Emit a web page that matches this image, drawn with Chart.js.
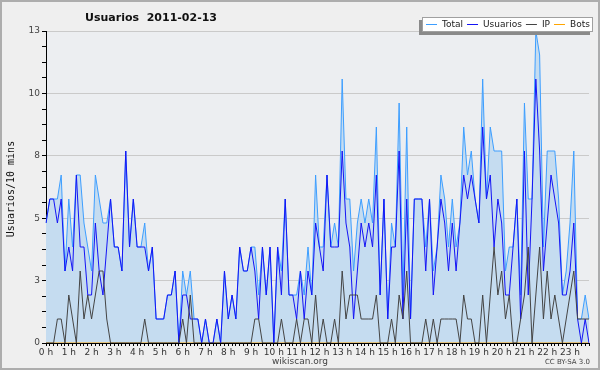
<!DOCTYPE html>
<html>
<head>
<meta charset="utf-8">
<script src="https://cdn.jsdelivr.net/npm/chart.js@4/dist/chart.umd.min.js"></script>
<style>
  html, body { margin: 0; padding: 0; background: #efefef; }
  #wrap { width: 600px; height: 370px; position: relative; }
</style>
</head>
<body>
<div id="wrap"><canvas id="chart" width="600" height="370"></canvas></div>
<script>
// hour tick labels, one every 6 points (10 min steps)
const hourLabels = ['0 h','1 h','2 h','3 h','4 h','5 h','6 h','7 h','8 h','9 h','10 h','11 h',
  '12 h','13 h','14 h','15 h','16 h','17 h','18 h','19 h','20 h','21 h','22 h','23 h'];

// users per 10 minutes, 144 points
const total = [
  5,6,6,6,7,3,6,4,7,7,5,4,
  3,7,6,5,5,6,4,4,3,8,4,6,
  4,4,5,3,4,1,1,1,2,2,3,0,
  3,2,3,1,1,0,1,0,0,1,0,3,
  1,2,1,4,3,3,4,4,2,4,2,4,
  0,4,3,6,2,2,2,3,2,4,2,7,
  4,4,7,4,5,4,11,6,6,3,5,6,
  5,6,5,9,2,6,1,5,4,10,2,9,
  1,6,6,6,4,6,3,4,7,6,4,6,
  4,5,9,7,8,6,5,11,6,9,8,8,
  8,3,4,4,6,2,10,6,6,13,12,4,
  8,8,8,6,2,3,5,8,1,1,2,1
];
const usuarios = [
  5,6,6,5,6,3,4,3,7,4,4,2,
  2,5,3,2,4,6,4,4,3,8,4,6,
  4,4,4,3,4,1,1,1,2,2,3,0,
  2,2,1,1,1,0,1,0,0,1,0,3,
  1,2,1,4,3,3,4,3,1,4,2,4,
  0,4,2,6,2,2,1,3,1,3,2,5,
  4,3,7,4,4,4,8,5,4,1,3,5,
  4,5,4,7,2,6,1,4,4,8,1,6,
  1,6,6,6,3,6,2,4,6,5,3,5,
  3,5,7,6,7,6,5,9,6,7,4,6,
  5,2,2,4,6,1,8,2,6,11,8,3,
  5,7,6,5,2,2,3,5,1,0,1,0
];
const ip = [
  0,0,0,1,1,0,2,1,0,3,1,2,
  1,2,3,3,1,0,0,0,0,0,0,0,
  0,0,1,0,0,0,0,0,0,0,0,0,
  1,0,2,0,0,0,0,0,0,0,0,0,
  0,0,0,0,0,0,0,1,1,0,0,0,
  0,0,1,0,0,0,1,0,1,1,0,2,
  0,1,0,0,1,0,3,1,2,2,2,1,
  1,1,1,2,0,0,0,1,0,2,1,3,
  0,0,0,0,1,0,1,0,1,1,1,1,
  1,0,2,1,1,0,0,2,0,2,4,2,
  3,1,2,0,0,1,2,4,0,2,4,1,
  3,1,2,1,0,1,2,3,1,1,1,1
];
const bots = [
  0,0,0,0,0,0,0,0,0,0,0,0,
  0,0,0,0,0,0,0,0,0,0,0,0,
  0,0,0,0,0,0,0,0,0,0,0,0,
  0,0,0,0,0,0,0,0,0,0,0,0,
  0,0,0,0,0,0,0,0,0,0,0,0,
  0,0,0,0,0,0,0,0,0,0,0,0,
  0,0,0,0,0,0,0,0,0,0,0,0,
  0,0,0,0,0,0,0,0,0,0,0,0,
  0,0,0,0,0,0,0,0,0,0,0,0,
  0,0,0,0,0,0,0,0,0,0,0,0,
  0,0,0,0,0,0,0,0,0,0,0,0,
  0,0,0,0,0,0,0,0,0,0,0,0
];

// x labels: hour name on every 6th point, blank otherwise
const xLabels = total.map((v, i) => i % 6 === 0 ? hourLabels[i / 6] : '');

const FONT = '"DejaVu Sans", Verdana, sans-serif';

// background, title, axis name, footer and the boxed legend
const decor = {
  id: 'decor',
  beforeDraw(chart) {
    const {ctx, chartArea: a} = chart;
    ctx.save();
    ctx.fillStyle = '#efefef';
    ctx.fillRect(0, 0, 600, 370);
    ctx.fillStyle = '#eceef1';
    ctx.fillRect(a.left, a.top, a.right - a.left + 1, a.bottom - a.top);
    ctx.strokeStyle = '#adadad';
    ctx.lineWidth = 2;
    ctx.strokeRect(1, 1, 598, 368);
    ctx.restore();
  },
  afterDraw(chart) {
    const ctx = chart.ctx;
    ctx.save();
    // title
    ctx.fillStyle = '#111';
    ctx.font = 'bold 11px ' + FONT;
    ctx.textAlign = 'center';
    ctx.textBaseline = 'alphabetic';
    ctx.fillText('Usuarios  2011-02-13', 151, 21);

    // y axis name
    ctx.save();
    ctx.translate(11, 189);
    ctx.rotate(-Math.PI / 2);
    ctx.font = '10px "DejaVu Sans Mono", monospace';
    ctx.textAlign = 'center';
    ctx.textBaseline = 'middle';
    ctx.fillStyle = '#111';
    ctx.fillText('Usuarios/10 mins', 0, 0);
    ctx.restore();

    // footer
    ctx.font = '9px ' + FONT;
    ctx.fillStyle = '#444';
    ctx.textAlign = 'center';
    ctx.textBaseline = 'alphabetic';
    ctx.fillText('wikiscan.org', 300, 364);
    ctx.font = '7px ' + FONT;
    ctx.textAlign = 'right';
    ctx.fillText('CC BY-SA 3.0', 590, 364);

    // legend box with shadow
    const bx = 422, by = 17, bw = 171, bh = 15;
    ctx.fillStyle = '#8a8a8a';
    ctx.fillRect(bx - 3, by + 3, bw, bh);
    ctx.fillStyle = '#ffffff';
    ctx.fillRect(bx, by, bw, bh);
    ctx.strokeStyle = '#a0a0a0';
    ctx.lineWidth = 1;
    ctx.strokeRect(bx + 0.5, by + 0.5, bw - 1, bh - 1);

    ctx.font = '9px ' + FONT;
    ctx.textAlign = 'left';
    ctx.textBaseline = 'middle';
    let x = bx + 4;
    chart.data.datasets.slice().sort((p, q) => p.legendPos - q.legendPos).forEach(ds => {
      ctx.strokeStyle = ds.borderColor;
      ctx.lineWidth = 1;
      ctx.beginPath();
      ctx.moveTo(x, by + 7.5);
      ctx.lineTo(x + 11, by + 7.5);
      ctx.stroke();
      ctx.fillStyle = '#222';
      ctx.fillText(ds.label, x + 16, by + 8);
      x += 16 + ctx.measureText(ds.label).width + 4;
    });
    ctx.restore();
  }
};

const canvas = document.querySelector('#chart');

new Chart(canvas.getContext('2d'), {
  type: 'line',
  data: {
    labels: xLabels,
    datasets: [
      {
        label: 'Total',
        data: total,
        borderColor: '#3d9eff',
        backgroundColor: '#c5dcf0',
        fill: 'origin',
        order: 4,
        legendPos: 0
      },
      {
        label: 'Usuarios',
        data: usuarios,
        borderColor: '#1414f5',
        fill: false,
        order: 2,
        legendPos: 1
      },
      {
        label: 'IP',
        data: ip,
        borderColor: '#444444',
        fill: false,
        order: 1,
        legendPos: 2
      },
      {
        label: 'Bots',
        data: bots,
        borderColor: '#ffa500',
        fill: false,
        order: 3,
        legendPos: 3
      }
    ]
  },
  options: {
    responsive: false,
    animation: false,
    devicePixelRatio: 1,
    layout: { padding: { left: 0, top: 31, right: 11, bottom: 0 } },
    elements: {
      line: { borderWidth: 1, tension: 0 },
      point: { radius: 0 }
    },
    plugins: {
      legend: { display: false },
      title: { display: false },
      tooltip: { enabled: false }
    },
    scales: {
      x: {
        z: 1,
        offset: false,
        border: { color: '#000', width: 1 },
        grid: {
          drawOnChartArea: false,
          drawTicks: true,
          tickLength: 3,
          tickColor: '#000'
        },
        ticks: {
          autoSkip: false,
          maxRotation: 0,
          minRotation: 0,
          padding: 1,
          color: '#333',
          font: { family: FONT, size: 9 }
        },
        afterFit(scale) { scale.height = 27; }
      },
      y: {
        z: 1,
        min: 0,
        max: 13,
        border: { color: '#000', width: 1 },
        grid: {
          drawTicks: true,
          tickLength: 4,
          tickColor: '#000',
          color: ctx => ctx.index % 4 === 0 && ctx.index > 0 ? '#cacaca' : 'rgba(0,0,0,0)'
        },
        ticks: {
          stepSize: 0.65,
          padding: 2,
          color: '#444',
          font: { family: FONT, size: 9 },
          callback: (v, i) => i % 4 === 0 ? String(Math.round(v)) : ''
        },
        afterFit(scale) { scale.width = 46; }
      }
    }
  },
  plugins: [decor]
});
</script>
</body>
</html>
